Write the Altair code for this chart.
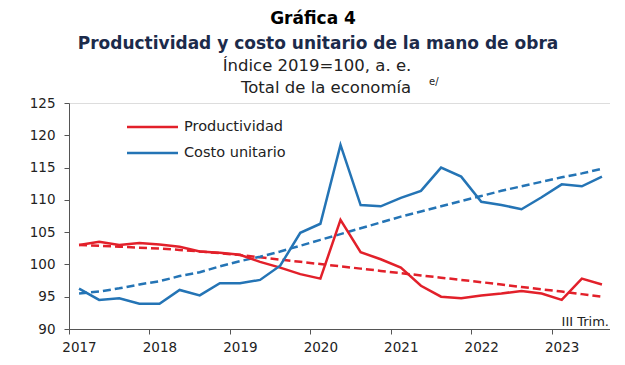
import altair as alt
import pandas as pd

# Quarterly periods 2017-I to 2023-III
years = [2017, 2018, 2019, 2020, 2021, 2022, 2023]
n_quarters = 27

productividad = [103.0, 103.5, 103.0, 103.3, 103.1, 102.75, 102.0, 101.8,
                 101.5, 100.4, 99.5, 98.5, 97.8, 106.9, 101.9, 100.8,
                 99.5, 96.7, 95.0, 94.75, 95.2, 95.5, 95.9, 95.5,
                 94.5, 97.8, 96.9]
costo = [96.25, 94.5, 94.75, 93.9, 93.9, 96.05, 95.2, 97.1,
         97.1, 97.6, 99.8, 104.9, 106.3, 118.5, 109.2, 109.0,
         110.3, 111.4, 115.0, 113.6, 109.7, 109.2, 108.55, 110.4,
         112.4, 112.1, 113.6]
prod_trend = [103.0, 102.9, 102.75, 102.6, 102.45, 102.25, 102.0, 101.75,
              101.45, 101.1, 100.75, 100.4, 100.05, 99.7, 99.35, 99.0,
              98.65, 98.3, 97.95, 97.6, 97.25, 96.9, 96.5, 96.15,
              95.8, 95.4, 95.0]
costo_trend = [95.5, 95.8, 96.3, 96.9, 97.4, 98.2, 98.8, 99.7,
               100.5, 101.2, 102.0, 102.9, 103.8, 104.7, 105.6, 106.5,
               107.4, 108.2, 109.0, 109.8, 110.6, 111.4, 112.1, 112.8,
               113.5, 114.1, 114.8]

series_names = ["Productividad", "Costo unitario"]
series_colors = ["#e2202a", "#2474b5"]

t = [2017 + i / 4 for i in range(n_quarters)]
rows = []
for name, vals, kind in [("Productividad", productividad, "obs"),
                         ("Costo unitario", costo, "obs"),
                         ("Productividad", prod_trend, "trend"),
                         ("Costo unitario", costo_trend, "trend")]:
    for ti, v in zip(t, vals):
        rows.append({"t": ti, "value": v, "series": name, "kind": kind,
                     "grp": name + kind})
df = pd.DataFrame(rows)

W, H = 541, 226
FONT = "DejaVu Sans"

color = alt.Color("series:N", scale=alt.Scale(domain=series_names, range=series_colors), legend=None)

xenc = alt.X("t:Q", scale=alt.Scale(domain=[2016.875, 2023.6], nice=False, zero=False),
             axis=alt.Axis(values=[y - 0.125 for y in years], labelExpr="toString(round(datum.value + 0.125))",
                           labelOffset=10, labelFlush=False, grid=False, tickSize=5, labelPadding=6,
                           labelFontSize=13.5, labelFont=FONT, labelColor="#222",
                           domainColor="#555", tickColor="#555", title=None))
yenc = alt.Y("value:Q", scale=alt.Scale(domain=[90, 125], nice=False, zero=False),
             axis=alt.Axis(values=list(range(90, 126, 5)), grid=False, tickSize=5, labelPadding=9,
                           labelFontSize=13.5, labelFont=FONT, labelColor="#222",
                           domainColor="#555", tickColor="#555", title=None))

obs = alt.Chart(df).transform_filter(alt.datum.kind == "obs").mark_line(strokeWidth=2.5).encode(
    x=xenc, y=yenc, color=color, detail="grp:N")
trend = alt.Chart(df).transform_filter(alt.datum.kind == "trend").mark_line(
    strokeWidth=2.5, strokeDash=[8, 4]).encode(x=xenc, y=yenc, color=color, detail="grp:N")

# manual legend
leg_df = pd.DataFrame({"series": series_names})
legend_layers = []
for i, name in enumerate(series_names):
    yy = 24 + i * 26
    sub = alt.Chart(leg_df).transform_filter(alt.datum.series == name)
    legend_layers.append(sub.mark_rule(strokeWidth=2.5).encode(
        x=alt.value(58), x2=alt.value(109), y=alt.value(yy), color=color))
    legend_layers.append(sub.mark_text(align="left", baseline="middle", font=FONT, fontSize=14.5,
                                       color="#222").encode(
        x=alt.value(115), y=alt.value(yy), text="series:N"))

def label(txt, x, y, size, weight="normal", col="#222", align="center", font=FONT):
    return alt.Chart(pd.DataFrame({"txt": [txt]})).mark_text(
        align=align, baseline="middle", fontSize=size, fontWeight=weight, color=col, font=font
    ).encode(x=alt.value(x), y=alt.value(y), text="txt:N")

texts = [
    label("Gráfica 4", 244, -84, 17, "bold", "#000"),
    label("Productividad y costo unitario de la mano de obra", 249, -59, 17, "bold", "#1c2b4b"),
    label("Índice 2019=100, a. e.", 248, -37, 16.5, "normal", "#222"),
    label("Total de la economía", 172, -15, 16.5, "normal", "#222", align="left"),
    label("e/", 360, -21, 10, "normal", "#222", align="left"),
    label("III Trim.", 540, 219, 13, "normal", "#222", align="right"),
]

chart = alt.layer(trend, obs, *legend_layers, *texts).properties(
    width=W, height=H,
    padding={"left": 61, "top": 95, "right": 0, "bottom": 25},
    autosize=alt.AutoSizeParams(type="none"),
).configure_view(stroke=None).configure(background="white")

chart.save("out.html", embed_options={"renderer": "svg", "actions": False})
